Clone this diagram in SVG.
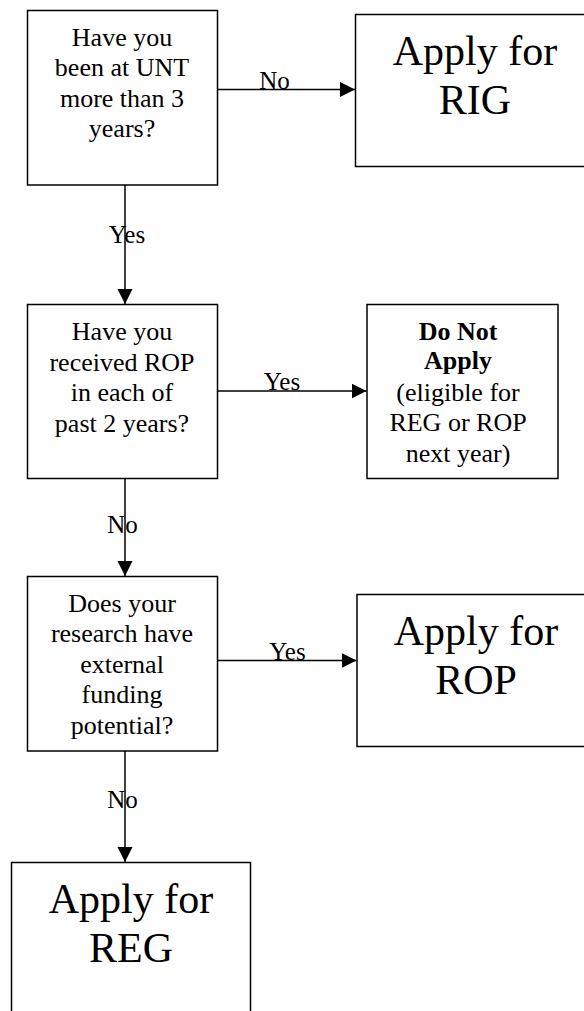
<svg xmlns="http://www.w3.org/2000/svg" width="584" height="1011" viewBox="0 0 584 1011">
<style>
text{font-family:'Liberation Serif',serif;fill:#000;text-anchor:middle}
.box{fill:#fff;stroke:#000;stroke-width:1.5}
.t{font-size:26px}
.big{font-size:42px}
.b{font-weight:bold}
.lbl{font-size:25px}
.c{stroke:#000;stroke-width:1.5;fill:none}
</style>
<defs>
<marker id="ah" markerUnits="userSpaceOnUse" markerWidth="16" markerHeight="16" refX="15" refY="7.5" orient="auto">
<path d="M0,0 L15,7.5 L0,15 Z" fill="#000"/>
</marker>
</defs>
<rect width="584" height="1011" fill="#fff"/>
<g id="q1">
<rect class="box" x="27.5" y="10.5" width="190" height="174.5"/>
<text class="t" x="122" y="45.5" font-family="Liberation Serif">Have you</text>
<text class="t" x="122" y="76">been at UNT</text>
<text class="t" x="122" y="106.5">more than 3</text>
<text class="t" x="122" y="137">years?</text>
</g>
<g id="rig">
<rect class="box" x="355.5" y="14.5" width="250" height="152"/>
<text class="big" x="475" y="65">Apply for</text>
<text class="big" x="475" y="113.5">RIG</text>
</g>
<g id="q2">
<rect class="box" x="27.5" y="304.5" width="190" height="174"/>
<text class="t" x="122" y="340">Have you</text>
<text class="t" x="122" y="370.5">received ROP</text>
<text class="t" x="122" y="401">in each of</text>
<text class="t" x="122" y="431.5">past 2 years?</text>
</g>
<g id="dna">
<rect class="box" x="367" y="304.5" width="191" height="174"/>
<text class="t b" x="458" y="339.5">Do Not</text>
<text class="t b" x="458" y="369">Apply</text>
<text class="t" x="458" y="400.5">(eligible for</text>
<text class="t" x="458" y="431">REG or ROP</text>
<text class="t" x="458" y="461.5">next year)</text>
</g>
<g id="q3">
<rect class="box" x="27.5" y="576.5" width="190" height="174.5"/>
<text class="t" x="122" y="612">Does your</text>
<text class="t" x="122" y="642">research have</text>
<text class="t" x="122" y="672.5">external</text>
<text class="t" x="122" y="703">funding</text>
<text class="t" x="122" y="733.5">potential?</text>
</g>
<g id="rop">
<rect class="box" x="357" y="594.5" width="250" height="152"/>
<text class="big" x="476" y="644.5">Apply for</text>
<text class="big" x="476" y="693.5">ROP</text>
</g>
<g id="reg">
<rect class="box" x="11.5" y="862.5" width="239" height="170"/>
<text class="big" x="131" y="912.5">Apply for</text>
<text class="big" x="131" y="961.5">REG</text>
</g>
<g id="connectors">
<line class="c" x1="217.5" y1="89.5" x2="355" y2="89.5" marker-end="url(#ah)"/>
<line class="c" x1="125" y1="185" x2="125" y2="304" marker-end="url(#ah)"/>
<line class="c" x1="217.5" y1="391" x2="366.5" y2="391" marker-end="url(#ah)"/>
<line class="c" x1="125" y1="479" x2="125" y2="576" marker-end="url(#ah)"/>
<line class="c" x1="217.5" y1="660.5" x2="356.5" y2="660.5" marker-end="url(#ah)"/>
<line class="c" x1="125" y1="751" x2="125" y2="862" marker-end="url(#ah)"/>
<text class="lbl" x="274.5" y="88.5">No</text>
<text class="lbl" x="127" y="243">Yes</text>
<text class="lbl" x="282" y="389.5">Yes</text>
<text class="lbl" x="122.5" y="533">No</text>
<text class="lbl" x="287.5" y="660">Yes</text>
<text class="lbl" x="122.5" y="808">No</text>
</g>
</svg>
